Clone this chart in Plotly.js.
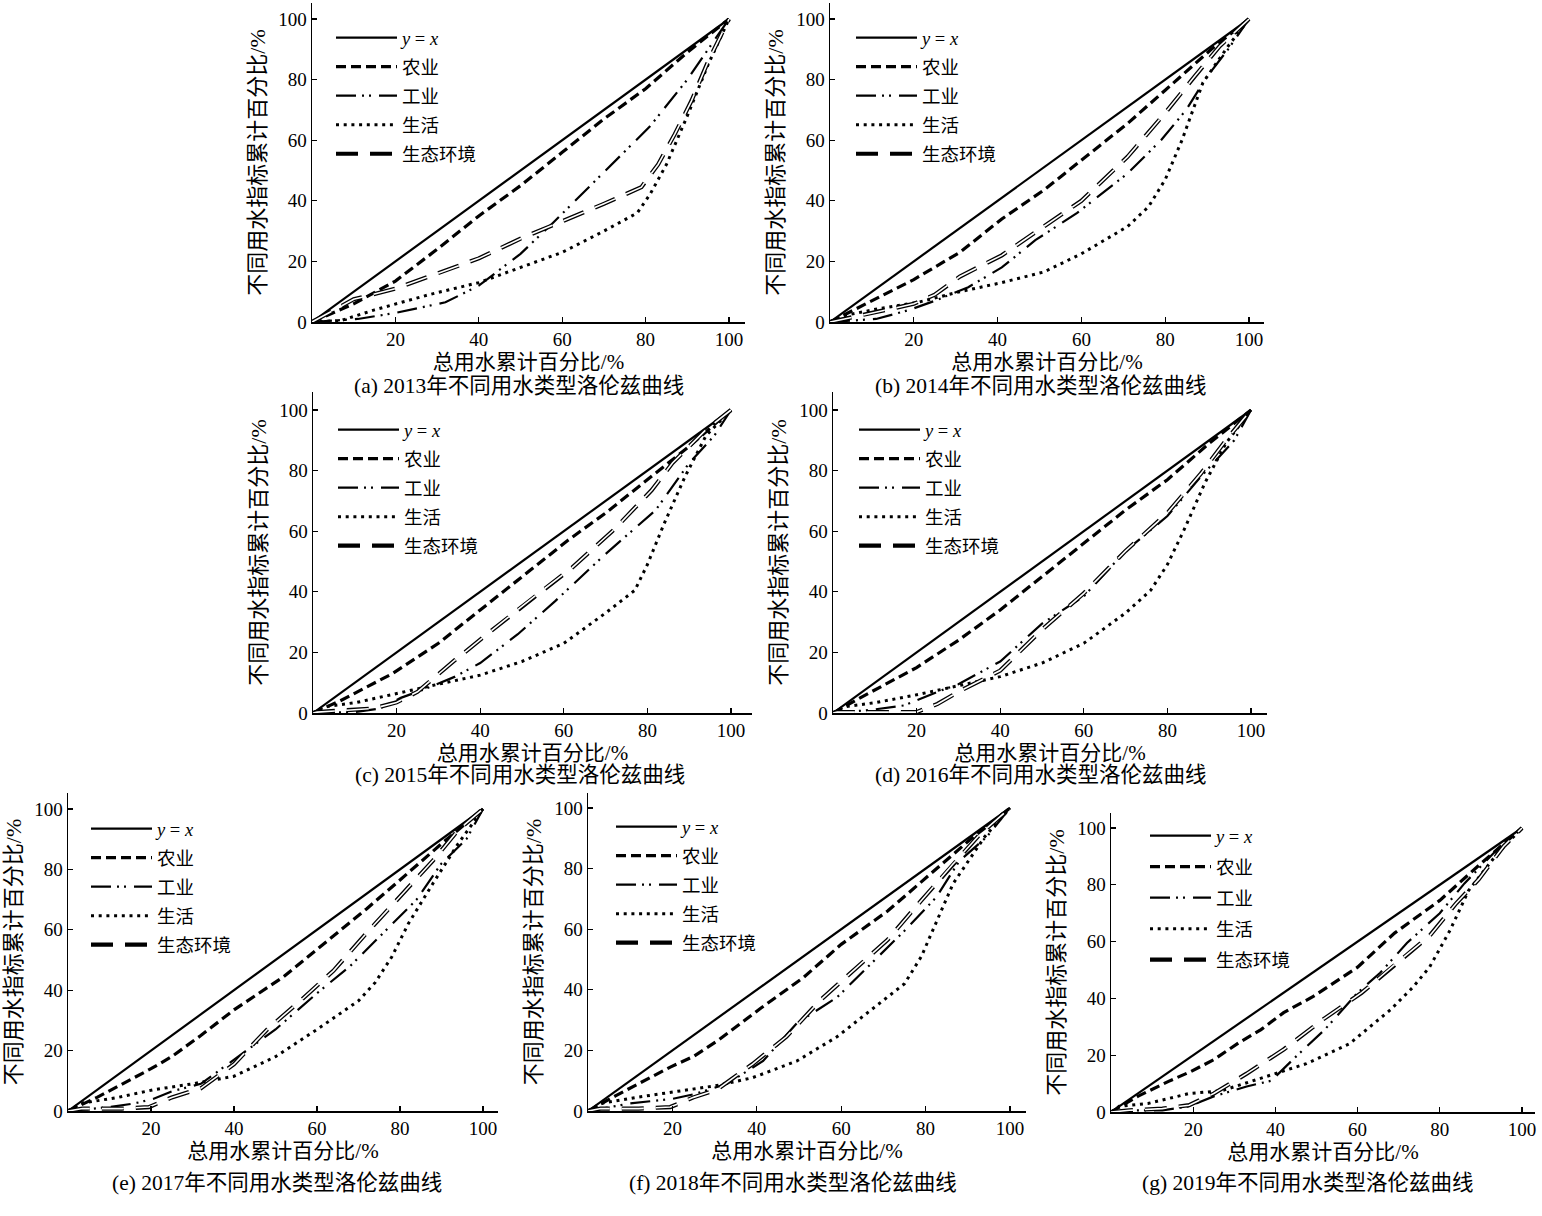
<!DOCTYPE html>
<html><head><meta charset="utf-8">
<script src="https://cdn.plot.ly/plotly-3.0.1.min.js"></script>
<style>html,body{margin:0;padding:0;background:#fff}#chart{width:1542px;height:1216px}</style>
</head><body><div id="chart"></div>
<script>
// ---------------- data ----------------
const panelLetters = ['a','b','c','d','e','f','g'];
const panelYears = ['2013','2014','2015','2016','2017','2018','2019'];
const seriesNames = ['<i>y</i> = <i>x</i>','农业','工业','生活','生态环境'];
const captionSuffix = '年不同用水类型洛伦兹曲线';
const xTitleText = '总用水累计百分比/%';
const yTitleText = '不同用水指标累计百分比/%';
const xTickVals = [20,40,60,80,100];
const yTickVals = [0,20,40,60,80,100];
const diagX = [0,100];
const diagY = [0,100];

// 2013
const agriX_2013 = [0,5,10,20,30,40,50,60,70,80,90,100];
const agriY_2013 = [0,3,6,13.5,24,35,45,56,67,77,89,100];
const indX_2013 = [0,11,20,32,40,50,58,70,81,90,100];
const indY_2013 = [0,1,3,6.5,12,22.5,33,49.5,64.5,80,100];
const domX_2013 = [0,7,15,28,40,50,60,70,78,81,85,90,95,100];
const domY_2013 = [0,0.5,4,9,13,18,23,30,36,42,52,68,85,100];
const ecoX_2013 = [0,4,10,20,28,40,50,58,70,79,80,83,87,91,95,100];
const ecoY_2013 = [0,3,7.5,11,15,21,27.5,32,39,44.5,46.5,52,62,73,86,100];
// 2014
const agriX_2014 = [0,7,20,31,41,51,60,71,80,91,100];
const agriY_2014 = [0,5,14,23,34,43.5,53.5,65.5,76.5,90,100];
const indX_2014 = [0,11,19,25,33,41,49,59,71,79,85,90,95,100];
const indY_2014 = [0,1,4,7,11.5,18,27,36,49,60,70,81,90,100];
const domX_2014 = [0,3,12,21,31,41,51,60,71,76,80,84,89,95,100];
const domY_2014 = [0,2,4.5,6.5,10,13,16.5,22.5,31.5,38,47,60,79,91,100];
const ecoX_2014 = [0,7,20,25,31,41,51,60,71,80,87,93,100];
const ecoY_2014 = [0,2,6,9,15,22,31.5,40,54.5,69,81,91,100];
// 2015
const agriX_2015 = [0,6.5,19,30,40,50,61,70,80,90,100];
const agriY_2015 = [0,4,13,23,34,45,57,66,77,88,100];
const indX_2015 = [0,10,16,21,27,34,40,49,58,70,82,90,96,100];
const indY_2015 = [0,0.3,1.5,5,8,12,16.5,26,37,52.5,67,82.5,91.5,100];
const domX_2015 = [0,2.5,10.5,20,30,40,50,60,70,77,80,84,89,94,100];
const domY_2015 = [0,2,3.5,6.5,9.5,12.5,17,23,33,40.5,49,62.5,78,91.5,100];
const ecoX_2015 = [0,1,14.5,20,25,34,43,53,62,72,81,86,94,100];
const ecoY_2015 = [0,0.3,1.5,3.5,7,17.5,27.5,38.5,48,60.5,73.5,82.5,93.5,100];
// 2016
const agriX_2016 = [0,6.5,20,30,40,50,61,70,80,90,100];
const agriY_2016 = [0,5,15,24,34,45,57,67,77,89,100];
const indX_2016 = [0,9,17,25,30,40,50,60,70,80,88,96,100];
const indY_2016 = [0,1,2.5,7,9.5,17,29.5,38.5,53.5,65,78,90,100];
const domX_2016 = [0,2.5,10.5,20,30,40,50,60,70,76,80,84,89,94,100];
const domY_2016 = [0,2,3.5,6,9,12,16.5,23,33,40.5,49,60.5,76,89,100];
const ecoX_2016 = [0,1,16,20,25,30,40,50,60,70,80,88,94,100];
const ecoY_2016 = [0,0.3,0.3,0.3,3,7,14,27.5,39.5,53.5,66,79,90,100];
// 2017
const agriX_2017 = [0,7,20,25,32,40,52,61,72,80,90,100];
const agriY_2017 = [0,4.5,14,18,25,33.5,44.5,54.5,67,76.5,88.5,100];
const indX_2017 = [0,10,16,20.5,25,32,41,50,60,68,76,84,90,96,100];
const indY_2017 = [0,1.3,2.5,4,6.5,9,18,27,39,48,59,70,82,90,100];
const domX_2017 = [0,3,12,20.5,30,40,50,60,70,74,78,82,88,94,100];
const domY_2017 = [0,2.5,4.5,7,9,11.5,18,27,36.5,42.5,51,62,75.5,88.5,100];
const ecoX_2017 = [0,3.5,13,19.5,25,32,40,48,56,64,72,80,88,94,100];
const ecoY_2017 = [0,0.8,0.8,1.3,4.5,7.5,15.5,27,36.5,46.5,59,71,83,93,100];
// 2018
const agriX_2018 = [0,6.5,19.5,25,31,41,51,60,71,80,90.5,100];
const agriY_2018 = [0,5,14.5,18,23.5,34,44,55,66,77,89.5,100];
const indX_2018 = [0,10,20,25,33,41.5,49.5,59,67,75,82.5,88,94.5,100];
const indY_2018 = [0,2.5,4,5.5,9,16.5,29,37.5,48.5,59.5,70.5,82.5,90.5,100];
const domX_2018 = [0,3,11.5,21,31,39,49.5,59,69,75,79,82.5,86.5,94,100];
const domY_2018 = [0,2.5,4.5,6.5,8.5,11,16.5,24.5,35.5,42,51,62,75,90.5,100];
const ecoX_2018 = [0,3,12,19.5,25,30.5,39,47,55,63,71,79,86.5,93,100];
const ecoY_2018 = [0,0.8,0.8,1.3,4.5,7,15.5,24.5,36.5,46.5,56.5,69.5,81.5,91.5,100];
// 2019
const agriX_2019 = [0,3,6.5,14,19.5,25,31,36.5,42,49,60,69,80,90,100];
const agriY_2019 = [0,2.6,5.5,10.8,14.3,18.4,24.3,29,35,40.5,51,63,74.5,87.5,100];
const indX_2019 = [0,5.5,12.5,19,25,33,39,45,52,60,65.5,72,80,86,94,100];
const indY_2019 = [0,0.6,0.6,2,5.5,9,11,19.5,29,42,49,59.5,70,80.5,92.5,100];
const domX_2019 = [0,2,9,19,27,37,47.5,58,68,73.5,77.5,82.5,87,94,100];
const domY_2019 = [0,2,3,6.5,7.5,12,17,24,36,44,51,64,78,91,100];
const ecoX_2019 = [0,4.5,12.5,19,25,33,42,51.5,61,69.5,77.5,84,89.5,95.5,100];
const ecoY_2019 = [0,0.6,1.2,2.4,6.5,13.5,22,32.5,42,52.5,62,73.5,82,93.5,100];

const seriesByYear = {
  '2013': [[agriX_2013,agriY_2013],[indX_2013,indY_2013],[domX_2013,domY_2013],[ecoX_2013,ecoY_2013]],
  '2014': [[agriX_2014,agriY_2014],[indX_2014,indY_2014],[domX_2014,domY_2014],[ecoX_2014,ecoY_2014]],
  '2015': [[agriX_2015,agriY_2015],[indX_2015,indY_2015],[domX_2015,domY_2015],[ecoX_2015,ecoY_2015]],
  '2016': [[agriX_2016,agriY_2016],[indX_2016,indY_2016],[domX_2016,domY_2016],[ecoX_2016,ecoY_2016]],
  '2017': [[agriX_2017,agriY_2017],[indX_2017,indY_2017],[domX_2017,domY_2017],[ecoX_2017,ecoY_2017]],
  '2018': [[agriX_2018,agriY_2018],[indX_2018,indY_2018],[domX_2018,domY_2018],[ecoX_2018,ecoY_2018]],
  '2019': [[agriX_2019,agriY_2019],[indX_2019,indY_2019],[domX_2019,domY_2019],[ecoX_2019,ecoY_2019]]
};

// ---------------- layout geometry (pixels) ----------------
const W = 1542, H = 1216;
const geom = [
  {x0:312,x100:729,xend:745,y0:322,y100:19,ytop:3,  lx:331,ly:19,  cx:519, cy:386},
  {x0:830,x100:1249,xend:1264,y0:322,y100:19,ytop:3, lx:851,ly:19,  cx:1040,cy:386},
  {x0:313,x100:731,xend:752,y0:713,y100:410,ytop:392, lx:333,ly:411, cx:520, cy:775},
  {x0:833,x100:1251,xend:1267,y0:713,y100:410,ytop:392, lx:854,ly:411, cx:1040,cy:775},
  {x0:68,x100:483,xend:498,y0:1111,y100:809,ytop:793, lx:86,ly:810, cx:277, cy:1183},
  {x0:588,x100:1010,xend:1026,y0:1111,y100:808,ytop:793, lx:611,ly:808, cx:793, cy:1183},
  {x0:1111,x100:1522,xend:1535,y0:1112,y100:828,ytop:813, lx:1145,ly:817, cx:1307,cy:1183}
];
const legendGaps = [2,2,2,2,2,2,4];

const FONT_LATIN = 'Liberation Serif, Noto Sans CJK SC, serif';
const styles = [
  {color:'#000', width:2.2, dash:'solid'},
  {color:'#000', width:3.2, dash:'10px,5px'},
  {color:'#000', width:2.2, dash:'20px,6px,2px,5px,2px,8px'},
  {color:'#000', width:3, dash:'3px,4.7px'},
  {color:'#000', width:4.2, dash:'22px,12px'}
];

const traces = [];
const layout = {
  width: W, height: H,
  margin: {l:0,r:0,t:0,b:0},
  paper_bgcolor: '#fff', plot_bgcolor: 'rgba(0,0,0,0)',
  showlegend: true,
  annotations: []
};

panelYears.forEach((yr, i) => {
  const g = geom[i];
  const n = i === 0 ? '' : String(i + 1);
  const xa = 'x' + n, ya = 'y' + n;
  const lg = 'legend' + n;
  const data = seriesByYear[yr];
  const lines = [[diagX, diagY]].concat(data);
  lines.forEach((xy, k) => {
    traces.push({
      type: 'scatter', mode: 'lines', x: xy[0], y: xy[1],
      xaxis: xa, yaxis: ya, name: seriesNames[k], legend: lg,
      legendgroup: 'p' + i + 's' + k, showlegend: true,
      line: {color: styles[k].color, width: styles[k].width, dash: styles[k].dash},
      hoverinfo: 'skip'
    });
  });
  // hollow centre of the ecological line
  traces.push({
    type: 'scatter', mode: 'lines', x: data[3][0], y: data[3][1],
    xaxis: xa, yaxis: ya, showlegend: false, legend: lg,
    line: {color: '#fff', width: 1.6, dash: '22px,12px'}, hoverinfo: 'skip'
  });

  const xUnit = (g.x100 - g.x0) / 100;
  const yUnit = (g.y0 - g.y100) / 100;
  layout['xaxis' + n] = {
    domain: [g.x0 / W, g.xend / W],
    range: [0, (g.xend - g.x0) / xUnit],
    anchor: ya, showline: true, linecolor: '#000', linewidth: 1.5,
    ticks: 'inside', ticklen: 5, tickwidth: 1.3, tickcolor: '#000',
    tickvals: xTickVals, ticktext: xTickVals.map(String),
    showgrid: false, zeroline: false, fixedrange: true,
    tickfont: {family: FONT_LATIN, size: 19, color: '#000'},
    title: {text: xTitleText, standoff: 0, font: {family: FONT_LATIN, size: 21, color: '#000'}}
  };
  layout['yaxis' + n] = {
    domain: [(H - g.y0) / H, (H - g.ytop) / H],
    range: [0, (g.y0 - g.ytop) / yUnit],
    anchor: xa, showline: true, linecolor: '#000', linewidth: 1.5,
    ticks: 'inside', ticklen: 5, tickwidth: 1.3, tickcolor: '#000',
    tickvals: yTickVals, ticktext: yTickVals.map(String),
    showgrid: false, zeroline: false, fixedrange: true,
    tickfont: {family: FONT_LATIN, size: 19, color: '#000'},
    title: {text: yTitleText, standoff: 6, font: {family: FONT_LATIN, size: 22, color: '#000'}}
  };
  layout[lg] = {
    x: g.lx / W, y: 1 - g.ly / H, xref: 'paper', yref: 'paper',
    xanchor: 'left', yanchor: 'top',
    bgcolor: 'rgba(0,0,0,0)', borderwidth: 0,
    traceorder: 'grouped', tracegroupgap: legendGaps[i],
    itemwidth: 61, itemclick: false, itemdoubleclick: false,
    font: {family: FONT_LATIN, size: 18.5, color: '#000'}
  };
  layout.annotations.push({
    xref: 'paper', yref: 'paper', x: g.cx / W, y: 1 - g.cy / H,
    xanchor: 'center', yanchor: 'middle', showarrow: false,
    text: '(' + panelLetters[i] + ') ' + yr + captionSuffix,
    font: {family: FONT_LATIN, size: 21.5, color: '#000'}
  });
});

Plotly.newPlot('chart', traces, layout, {displayModeBar: false, staticPlot: true});
</script>
</body></html>
